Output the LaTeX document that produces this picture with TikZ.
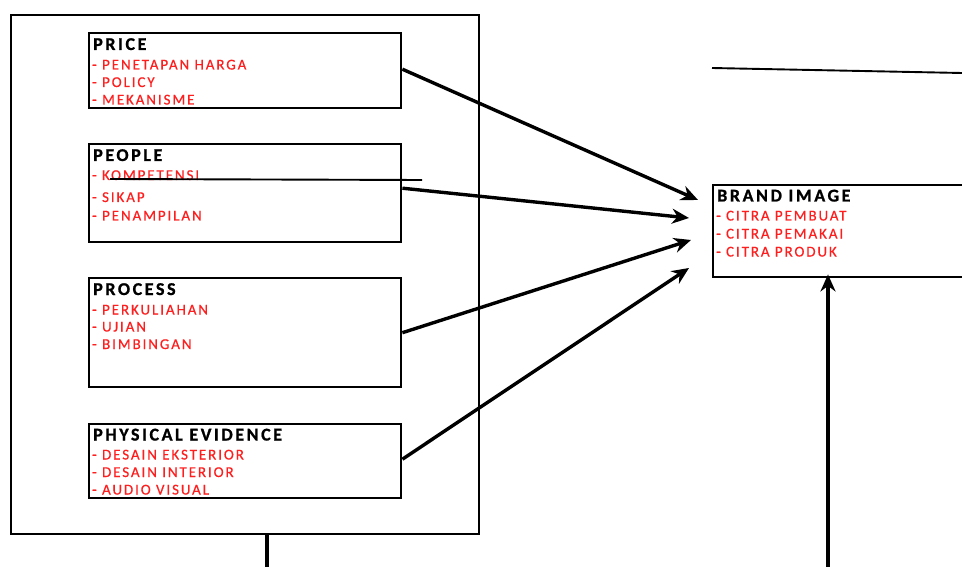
\documentclass[tikz,border=0pt]{standalone}
\usepackage{fontspec}
\setmainfont{Carlito}
\newfontfamily\ttlfont[LetterSpace=14.4,FakeBold=1.0]{Carlito}
\newfontfamily\itmfont[LetterSpace=12.7,FakeBold=0.5]{Carlito}
\usetikzlibrary{arrows.meta}
\definecolor{itemred}{RGB}{255,30,30}
\tikzset{
  box/.style={draw=black, line width=2.4pt, anchor=north west, inner sep=0pt},
  ttl/.style={anchor=base west, inner sep=0pt, font=\ttlfont\fontsize{18}{19}\selectfont\bfseries},
  itm/.style={anchor=base west, inner sep=0pt, text=itemred, font=\itmfont\fontsize{15}{16}\selectfont},
  arr/.style={line width=3.4pt, -{Stealth[length=17pt,width=15pt]}},
  thin/.style={line width=1.9pt},
}
\begin{document}
\begin{tikzpicture}[x=1pt,y=-1pt]
\useasboundingbox (0,0) rectangle (962,567);
\clip (0,0) rectangle (962,567);
% outer frame
\node[box, line width=1.9pt, minimum width=468pt, minimum height=519pt] (outer) at (10,14) {};
% boxes
\node[box, minimum width=312pt, minimum height=75pt] (price) at (88,32) {};
\node[box, minimum width=312pt, minimum height=98pt] (people) at (88,143) {};
\node[box, minimum width=312pt, minimum height=109pt] (process) at (88,277) {};
\node[box, minimum width=312pt, minimum height=74pt] (phys) at (88,423) {};
\node[box, minimum width=260pt, minimum height=92pt] (brand) at (712,184) {};
% texts
\node[ttl] (t1) at (93,50) {PRICE};
\node[itm] (p1) at (92,69.5) {- PENETAPAN HARGA};
\node[itm] (p2) at (92,87) {- POLICY};
\node[itm] (p3) at (92,104.5) {- MEKANISME};
\node[ttl] (t2) at (93,161) {PEOPLE};
\node[itm] (q1) at (92,180) {- KOMPETENSI};
\node[itm] (q2) at (92,202) {- SIKAP};
\node[itm] (q3) at (92,220.5) {- PENAMPILAN};
\node[ttl] (t3) at (93,295) {PROCESS};
\node[itm] (r1) at (92,314.5) {- PERKULIAHAN};
\node[itm] (r2) at (92,331.5) {- UJIAN};
\node[itm] (r3) at (92,349) {- BIMBINGAN};
\node[ttl] (t4) at (93,440.5) {PHYSICAL EVIDENCE};
\node[itm] (s1) at (92,459.5) {- DESAIN EKSTERIOR};
\node[itm] (s2) at (92,477) {- DESAIN INTERIOR};
\node[itm] (s3) at (92,494.5) {- AUDIO VISUAL};
\node[ttl] (t5) at (717,201.5) {BRAND IMAGE};
\node[itm] (b1) at (716,220.5) {- CITRA PEMBUAT};
\node[itm] (b2) at (716,238.5) {- CITRA PEMAKAI};
\node[itm] (b3) at (716,256.5) {- CITRA PRODUK};
% free ends
\coordinate (e1) at (698,200);
\coordinate (e2) at (689,218);
\coordinate (e3) at (691,240);
\coordinate (e4) at (689,268);
\coordinate (l1a) at (712,68);
\coordinate (l1b) at (962,73);
\coordinate (l2a) at (110,179);
\coordinate (l2b) at (422,180);
\coordinate (bot1) at (267,567);
\coordinate (bot2) at (828,567);
% arrows
\draw[arr] ([yshift=1.5pt]price.east) -- (e1);
\draw[arr] ([yshift=5pt]people.east) -- (e2);
\draw[arr] (process.east) -- (e3);
\draw[arr] ([yshift=2pt]phys.east) -- (e4);
\draw[arr, line width=4.2pt] (bot2) -- ([yshift=4pt]brand.south -| bot2);
\draw[line width=4.2pt] (outer.south -| bot1) -- (bot1);
% thin lines
\draw[thin] (l1a) -- (l1b);
\draw[thin] (l2a) -- (l2b);
\end{tikzpicture}
\end{document}
